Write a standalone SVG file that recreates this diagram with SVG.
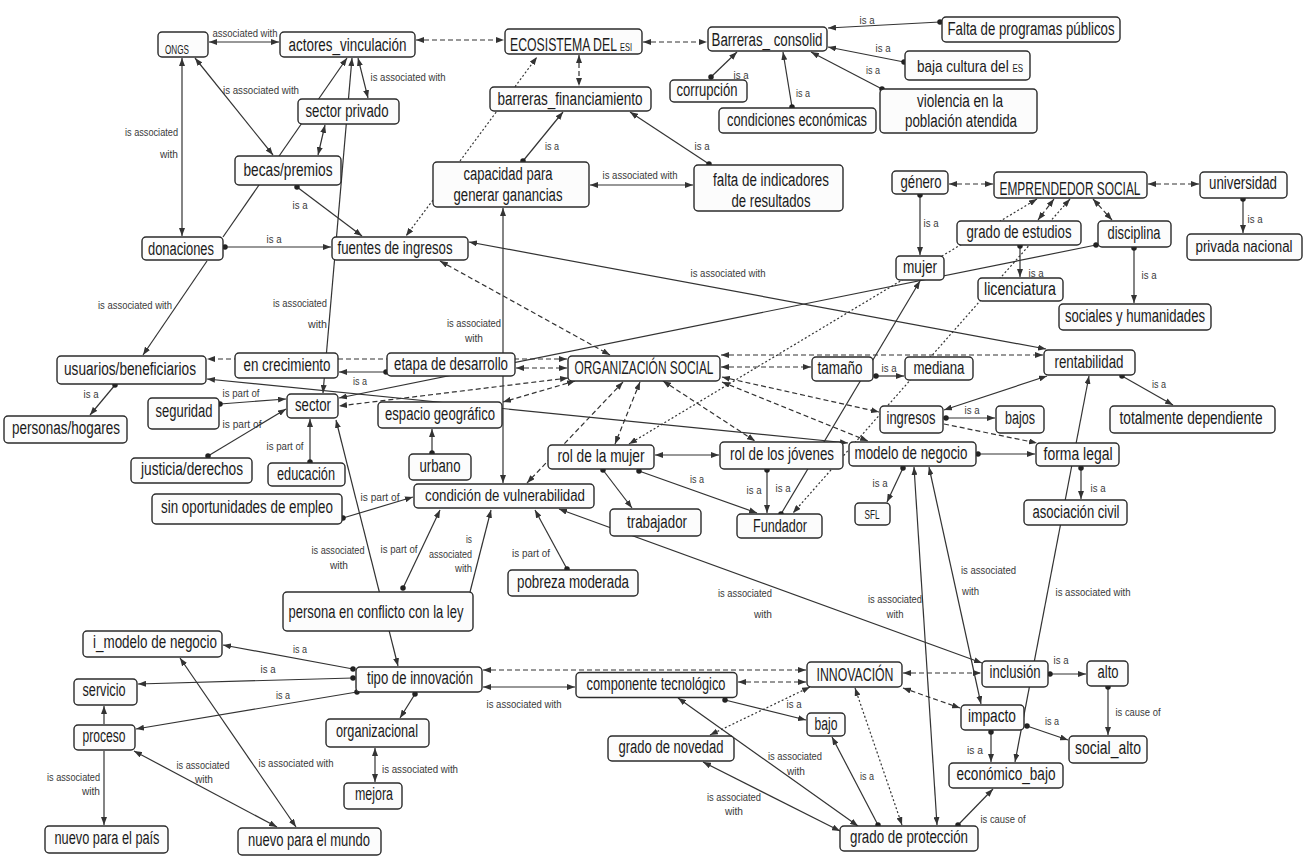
<svg xmlns="http://www.w3.org/2000/svg" width="1307" height="860" viewBox="0 0 1307 860">
<style>
line{stroke:#333;stroke-width:1.2;fill:none}
.k{stroke-dasharray:5 3}
.t{stroke-dasharray:2 2.2}
.b{marker-start:url(#ah);marker-end:url(#ah)}
.e{marker-end:url(#ah)}
.de{marker-start:url(#dt);marker-end:url(#ah)}
.nodes rect{fill:#fcfcfc;stroke:#2b2b2b;stroke-width:1.4}
.nodes text{font-family:"Liberation Sans",Arial,sans-serif;font-size:18px;fill:#1a1a1a;text-anchor:middle}
.nodes text.s{text-anchor:start}
.lb text{font-family:"Liberation Sans",Arial,sans-serif;font-size:11.5px;fill:#3a3a3a;text-anchor:middle}
.lb text.r{text-anchor:end}
.lb text.st{text-anchor:start}
</style>
<defs>
<marker id="ah" viewBox="0 0 8 6" refX="8" refY="3" markerWidth="8" markerHeight="6" markerUnits="userSpaceOnUse" orient="auto-start-reverse"><path d="M0,0 L8,3 L0,6 z" fill="#333"/></marker>
<marker id="dt" viewBox="0 0 6 6" refX="3" refY="3" markerWidth="5.5" markerHeight="5.5" markerUnits="userSpaceOnUse"><circle cx="3" cy="3" r="3" fill="#222"/></marker>
</defs>
<rect width="1307" height="860" fill="#ffffff"/>
<g id="connectors">
<line class="b" x1="209" y1="42" x2="279" y2="42"/>
<line class="b" x1="182" y1="58" x2="182" y2="236"/>
<line class="b" x1="195" y1="58" x2="273" y2="155"/>
<line class="b" x1="358" y1="58" x2="368" y2="98"/>
<line class="e" x1="223" y1="237" x2="347" y2="58"/>
<line class="b" x1="325" y1="125" x2="318" y2="155"/>
<line class="b" x1="352" y1="58" x2="323" y2="393"/>
<line class="de" x1="225" y1="247" x2="331" y2="247"/>
<line class="de" x1="297" y1="187" x2="362" y2="236"/>
<line class="e" x1="207" y1="261" x2="143" y2="355"/>
<line class="t e" x1="460" y1="161" x2="537" y2="57"/>
<line class="t e" x1="433" y1="200" x2="406" y2="236"/>
<line class="k b" x1="416" y1="40" x2="504" y2="40"/>
<line class="k b" x1="643" y1="42" x2="707" y2="42"/>
<line class="k b" x1="579" y1="55" x2="579" y2="86"/>
<line class="de" x1="523" y1="161" x2="563" y2="112"/>
<line class="de" x1="709" y1="164" x2="630" y2="112"/>
<line class="b" x1="590" y1="185" x2="693" y2="185"/>
<line class="de" x1="711" y1="77" x2="737" y2="52"/>
<line class="de" x1="792" y1="107" x2="783" y2="52"/>
<line class="de" x1="940" y1="22" x2="828" y2="28"/>
<line class="de" x1="904" y1="62" x2="828" y2="47"/>
<line class="de" x1="882" y1="89" x2="811" y2="52"/>
<line class="k b" x1="440" y1="261" x2="610" y2="355"/>
<line class="b" x1="469" y1="242" x2="1046" y2="349"/>
<line class="b" x1="503" y1="208" x2="503" y2="483"/>
<line class="k b" x1="516" y1="368" x2="567" y2="368"/>
<line class="k b" x1="567" y1="359" x2="207" y2="359"/>
<line class="de" x1="386" y1="372" x2="339" y2="372"/>
<line class="de" x1="1096" y1="245" x2="339" y2="398"/>
<line class="b" x1="207" y1="379" x2="848" y2="443"/>
<line class="k b" x1="568" y1="378" x2="339" y2="406"/>
<line class="k b" x1="575" y1="381" x2="503" y2="402"/>
<line class="de" x1="432" y1="453" x2="432" y2="429"/>
<line class="de" x1="220" y1="404" x2="286" y2="399"/>
<line class="de" x1="208" y1="456" x2="286" y2="409"/>
<line class="de" x1="310" y1="462" x2="310" y2="419"/>
<line class="de" x1="115" y1="385" x2="90" y2="415"/>
<line class="de" x1="343" y1="518" x2="413" y2="497"/>
<line class="de" x1="403" y1="588" x2="440" y2="510"/>
<line class="e" x1="470" y1="592" x2="491" y2="510"/>
<line class="b" x1="336" y1="420" x2="398" y2="666"/>
<line class="de" x1="567" y1="569" x2="535" y2="510"/>
<line class="b" x1="559" y1="509" x2="982" y2="663"/>
<line class="de" x1="603" y1="470" x2="632" y2="508"/>
<line class="de" x1="639" y1="471" x2="757" y2="513"/>
<line class="b" x1="655" y1="455" x2="719" y2="455"/>
<line class="de" x1="767" y1="470" x2="767" y2="513"/>
<line class="de" x1="781" y1="514" x2="920" y2="281"/>
<line class="t b" x1="1070" y1="199" x2="793" y2="513"/>
<line class="t b" x1="1037" y1="199" x2="629" y2="444"/>
<line class="k b" x1="949" y1="184" x2="993" y2="184"/>
<line class="k b" x1="1148" y1="184" x2="1199" y2="184"/>
<line class="k b" x1="1093" y1="199" x2="1112" y2="220"/>
<line class="k b" x1="1054" y1="199" x2="1038" y2="220"/>
<line class="de" x1="1020" y1="246" x2="1020" y2="277"/>
<line class="de" x1="1134" y1="248" x2="1134" y2="303"/>
<line class="de" x1="1243" y1="199" x2="1243" y2="233"/>
<line class="de" x1="920" y1="195" x2="920" y2="255"/>
<line class="k b" x1="721" y1="355" x2="1043" y2="355"/>
<line class="k b" x1="721" y1="367" x2="811" y2="367"/>
<line class="de" x1="876" y1="376" x2="904" y2="376"/>
<line class="k b" x1="722" y1="377" x2="879" y2="412"/>
<line class="k e" x1="944" y1="424" x2="1037" y2="443"/>
<line class="k b" x1="722" y1="382" x2="868" y2="441"/>
<line class="k b" x1="663" y1="381" x2="755" y2="441"/>
<line class="k b" x1="640" y1="382" x2="615" y2="444"/>
<line class="k b" x1="623" y1="382" x2="527" y2="483"/>
<line class="b" x1="944" y1="410" x2="1047" y2="376"/>
<line class="de" x1="946" y1="418" x2="995" y2="418"/>
<line class="de" x1="1122" y1="376" x2="1173" y2="405"/>
<line class="de" x1="978" y1="454" x2="1035" y2="454"/>
<line class="de" x1="1081" y1="468" x2="1081" y2="499"/>
<line class="de" x1="903" y1="468" x2="887" y2="502"/>
<line class="b" x1="1089" y1="376" x2="1015" y2="762"/>
<line class="b" x1="914" y1="467" x2="937" y2="825"/>
<line class="b" x1="929" y1="467" x2="981" y2="704"/>
<line class="k b" x1="903" y1="673" x2="981" y2="673"/>
<line class="k b" x1="903" y1="688" x2="960" y2="708"/>
<line class="t b" x1="855" y1="688" x2="902" y2="825"/>
<line class="k b" x1="483" y1="670" x2="806" y2="670"/>
<line class="k b" x1="738" y1="682" x2="806" y2="682"/>
<line class="b" x1="483" y1="687" x2="575" y2="687"/>
<line class="de" x1="725" y1="700" x2="806" y2="720"/>
<line class="t b" x1="810" y1="687" x2="710" y2="735"/>
<line class="b" x1="703" y1="762" x2="840" y2="831"/>
<line class="b" x1="678" y1="698" x2="858" y2="826"/>
<line class="de" x1="878" y1="825" x2="832" y2="737"/>
<line class="de" x1="958" y1="825" x2="993" y2="789"/>
<line class="de" x1="1050" y1="674" x2="1086" y2="674"/>
<line class="de" x1="1108" y1="687" x2="1108" y2="735"/>
<line class="de" x1="1027" y1="726" x2="1068" y2="740"/>
<line class="de" x1="991" y1="732" x2="991" y2="762"/>
<line class="de" x1="353" y1="669" x2="223" y2="645"/>
<line class="de" x1="353" y1="678" x2="138" y2="684"/>
<line class="de" x1="357" y1="692" x2="136" y2="729"/>
<line class="de" x1="415" y1="694" x2="400" y2="718"/>
<line class="b" x1="375" y1="748" x2="375" y2="782"/>
<line class="e" x1="104" y1="724" x2="104" y2="706"/>
<line class="e" x1="104" y1="751" x2="104" y2="825"/>
<line class="b" x1="134" y1="751" x2="277" y2="827"/>
<line class="b" x1="180" y1="658" x2="296" y2="827"/>
</g>
<g id="link-labels" class="lb">
<text x="245" y="37" textLength="65" lengthAdjust="spacingAndGlyphs">associated with</text>
<text class="r" x="178" y="136" textLength="53" lengthAdjust="spacingAndGlyphs">is associated</text>
<text class="r" x="178" y="158" textLength="18" lengthAdjust="spacingAndGlyphs">with</text>
<text x="261" y="94" textLength="76" lengthAdjust="spacingAndGlyphs">is associated with</text>
<text x="408" y="81" textLength="75" lengthAdjust="spacingAndGlyphs">is associated with</text>
<text x="274" y="243" textLength="15" lengthAdjust="spacingAndGlyphs">is a</text>
<text x="300" y="209" textLength="15" lengthAdjust="spacingAndGlyphs">is a</text>
<text x="135" y="309" textLength="74" lengthAdjust="spacingAndGlyphs">is associated with</text>
<text class="r" x="327" y="307" textLength="54" lengthAdjust="spacingAndGlyphs">is associated</text>
<text class="r" x="327" y="328" textLength="19" lengthAdjust="spacingAndGlyphs">with</text>
<text x="552" y="150" textLength="14" lengthAdjust="spacingAndGlyphs">is a</text>
<text x="702" y="150" textLength="15" lengthAdjust="spacingAndGlyphs">is a</text>
<text x="640" y="179" textLength="75" lengthAdjust="spacingAndGlyphs">is associated with</text>
<text x="741" y="79" textLength="15" lengthAdjust="spacingAndGlyphs">is a</text>
<text x="803" y="97" textLength="14" lengthAdjust="spacingAndGlyphs">is a</text>
<text x="867" y="24" textLength="15" lengthAdjust="spacingAndGlyphs">is a</text>
<text x="883" y="52" textLength="15" lengthAdjust="spacingAndGlyphs">is a</text>
<text x="873" y="74" textLength="14" lengthAdjust="spacingAndGlyphs">is a</text>
<text x="728" y="277" textLength="75" lengthAdjust="spacingAndGlyphs">is associated with</text>
<text class="r" x="501" y="327" textLength="54" lengthAdjust="spacingAndGlyphs">is associated</text>
<text x="474" y="342" textLength="18" lengthAdjust="spacingAndGlyphs">with</text>
<text x="360" y="385" textLength="14" lengthAdjust="spacingAndGlyphs">is a</text>
<text x="241" y="397" textLength="37" lengthAdjust="spacingAndGlyphs">is part of</text>
<text x="242" y="428" textLength="39" lengthAdjust="spacingAndGlyphs">is part of</text>
<text x="285" y="450" textLength="37" lengthAdjust="spacingAndGlyphs">is part of</text>
<text x="91" y="398" textLength="15" lengthAdjust="spacingAndGlyphs">is a</text>
<text x="380" y="501" textLength="39" lengthAdjust="spacingAndGlyphs">is part of</text>
<text x="399" y="553" textLength="37" lengthAdjust="spacingAndGlyphs">is part of</text>
<text class="r" x="472" y="543" textLength="6" lengthAdjust="spacingAndGlyphs">is</text>
<text class="r" x="472" y="558" textLength="43" lengthAdjust="spacingAndGlyphs">associated</text>
<text class="r" x="472" y="572" textLength="17" lengthAdjust="spacingAndGlyphs">with</text>
<text x="338" y="554" textLength="53" lengthAdjust="spacingAndGlyphs">is associated</text>
<text x="339" y="569" textLength="18" lengthAdjust="spacingAndGlyphs">with</text>
<text x="531" y="557" textLength="38" lengthAdjust="spacingAndGlyphs">is part of</text>
<text class="r" x="772" y="597" textLength="54" lengthAdjust="spacingAndGlyphs">is associated</text>
<text class="r" x="772" y="618" textLength="18" lengthAdjust="spacingAndGlyphs">with</text>
<text x="895" y="603" textLength="54" lengthAdjust="spacingAndGlyphs">is associated</text>
<text x="895" y="618" textLength="17" lengthAdjust="spacingAndGlyphs">with</text>
<text x="697" y="483" textLength="14" lengthAdjust="spacingAndGlyphs">is a</text>
<text x="754" y="494" textLength="15" lengthAdjust="spacingAndGlyphs">is a</text>
<text x="783" y="492" textLength="15" lengthAdjust="spacingAndGlyphs">is a</text>
<text x="931" y="227" textLength="15" lengthAdjust="spacingAndGlyphs">is a</text>
<text x="1036" y="277" textLength="15" lengthAdjust="spacingAndGlyphs">is a</text>
<text x="1149" y="279" textLength="15" lengthAdjust="spacingAndGlyphs">is a</text>
<text x="1255" y="223" textLength="15" lengthAdjust="spacingAndGlyphs">is a</text>
<text x="889" y="372" textLength="15" lengthAdjust="spacingAndGlyphs">is a</text>
<text x="972" y="414" textLength="15" lengthAdjust="spacingAndGlyphs">is a</text>
<text x="1159" y="388" textLength="14" lengthAdjust="spacingAndGlyphs">is a</text>
<text x="1098" y="492" textLength="15" lengthAdjust="spacingAndGlyphs">is a</text>
<text x="880" y="487" textLength="15" lengthAdjust="spacingAndGlyphs">is a</text>
<text x="1093" y="596" textLength="75" lengthAdjust="spacingAndGlyphs">is associated with</text>
<text class="st" x="961" y="574" textLength="55" lengthAdjust="spacingAndGlyphs">is associated</text>
<text class="st" x="962" y="595" textLength="17" lengthAdjust="spacingAndGlyphs">with</text>
<text x="524" y="708" textLength="75" lengthAdjust="spacingAndGlyphs">is associated with</text>
<text x="794" y="708" textLength="15" lengthAdjust="spacingAndGlyphs">is a</text>
<text x="795" y="760" textLength="54" lengthAdjust="spacingAndGlyphs">is associated</text>
<text x="796" y="775" textLength="18" lengthAdjust="spacingAndGlyphs">with</text>
<text x="734" y="801" textLength="54" lengthAdjust="spacingAndGlyphs">is associated</text>
<text x="734" y="815" textLength="18" lengthAdjust="spacingAndGlyphs">with</text>
<text x="867" y="780" textLength="14" lengthAdjust="spacingAndGlyphs">is a</text>
<text x="1003" y="823" textLength="45" lengthAdjust="spacingAndGlyphs">is cause of</text>
<text x="1061" y="664" textLength="15" lengthAdjust="spacingAndGlyphs">is a</text>
<text x="1138" y="716" textLength="45" lengthAdjust="spacingAndGlyphs">is cause of</text>
<text x="1052" y="725" textLength="14" lengthAdjust="spacingAndGlyphs">is a</text>
<text x="975" y="754" textLength="16" lengthAdjust="spacingAndGlyphs">is a</text>
<text x="300" y="653" textLength="14" lengthAdjust="spacingAndGlyphs">is a</text>
<text x="268" y="673" textLength="15" lengthAdjust="spacingAndGlyphs">is a</text>
<text x="283" y="699" textLength="14" lengthAdjust="spacingAndGlyphs">is a</text>
<text x="420" y="773" textLength="76" lengthAdjust="spacingAndGlyphs">is associated with</text>
<text class="r" x="100" y="781" textLength="53" lengthAdjust="spacingAndGlyphs">is associated</text>
<text class="r" x="100" y="795" textLength="18" lengthAdjust="spacingAndGlyphs">with</text>
<text x="203" y="769" textLength="53" lengthAdjust="spacingAndGlyphs">is associated</text>
<text x="204" y="783" textLength="18" lengthAdjust="spacingAndGlyphs">with</text>
<text x="296" y="767" textLength="75" lengthAdjust="spacingAndGlyphs">is associated with</text>
</g>
<g class="nodes">
<g id="n-ongs"><rect x="158" y="32" width="50" height="25" rx="4"/><text x="177" y="54" style="font-size:12px" textLength="24" lengthAdjust="spacingAndGlyphs">ONGS</text></g>
<g id="n-actores"><rect x="280" y="32" width="135" height="25" rx="4"/><text x="347.5" y="51" textLength="118" lengthAdjust="spacingAndGlyphs">actores_vinculación</text></g>
<g id="n-sector-privado"><rect x="298" y="99" width="101" height="25" rx="4"/><text x="347" y="117" textLength="83" lengthAdjust="spacingAndGlyphs">sector privado</text></g>
<g id="n-becas"><rect x="235" y="156" width="106" height="29" rx="4"/><text x="288" y="176" textLength="89" lengthAdjust="spacingAndGlyphs">becas/premios</text></g>
<g id="n-donaciones"><rect x="142" y="237" width="81" height="23" rx="4"/><text x="181" y="255" textLength="66" lengthAdjust="spacingAndGlyphs">donaciones</text></g>
<g id="n-fuentes"><rect x="332" y="237" width="136" height="23" rx="4"/><text x="395" y="254" textLength="115" lengthAdjust="spacingAndGlyphs">fuentes de ingresos</text></g>
<g id="n-ecosistema"><rect x="505" y="29" width="137" height="25" rx="4"/><text class="s" x="510" y="51" textLength="122" lengthAdjust="spacingAndGlyphs">ECOSISTEMA DEL <tspan style="font-size:11px">ESI</tspan></text></g>
<g id="n-barreras-consolid"><rect x="708" y="27" width="119" height="24" rx="4"/><text x="767" y="46" textLength="111" lengthAdjust="spacingAndGlyphs">Barreras_ consolid</text></g>
<g id="n-barreras-fin"><rect x="490" y="87" width="161" height="24" rx="4"/><text x="570" y="105" textLength="145" lengthAdjust="spacingAndGlyphs">barreras_financiamiento</text></g>
<g id="n-corrupcion"><rect x="670" y="80" width="77" height="22" rx="4"/><text x="707" y="96" textLength="61" lengthAdjust="spacingAndGlyphs">corrupción</text></g>
<g id="n-condiciones"><rect x="719" y="108" width="157" height="25" rx="4"/><text x="797" y="126" textLength="140" lengthAdjust="spacingAndGlyphs">condiciones económicas</text></g>
<g id="n-falta-programas"><rect x="942" y="17" width="178" height="25" rx="4"/><text x="1031" y="35" textLength="167" lengthAdjust="spacingAndGlyphs">Falta de programas públicos</text></g>
<g id="n-baja-cultura"><rect x="905" y="51" width="125" height="29" rx="4"/><text class="s" x="917" y="72" style="font-size:17px" textLength="106" lengthAdjust="spacingAndGlyphs">baja cultura del <tspan style="font-size:10px">ES</tspan></text></g>
<g id="n-violencia"><rect x="880" y="89" width="157" height="44" rx="4"/><text x="960" y="107" textLength="86" lengthAdjust="spacingAndGlyphs">violencia en la</text><text x="961" y="127" textLength="112" lengthAdjust="spacingAndGlyphs">población atendida</text></g>
<g id="n-capacidad"><rect x="433" y="162" width="156" height="45" rx="4"/><text x="508" y="180" textLength="89" lengthAdjust="spacingAndGlyphs">capacidad para</text><text x="508" y="201" textLength="109" lengthAdjust="spacingAndGlyphs">generar ganancias</text></g>
<g id="n-falta-indicadores"><rect x="694" y="165" width="149" height="46" rx="4"/><text x="771" y="186" textLength="116" lengthAdjust="spacingAndGlyphs">falta de indicadores</text><text x="771" y="207" textLength="79" lengthAdjust="spacingAndGlyphs">de resultados</text></g>
<g id="n-genero"><rect x="892" y="171" width="56" height="23" rx="4"/><text x="921" y="188" textLength="41" lengthAdjust="spacingAndGlyphs">género</text></g>
<g id="n-emprendedor"><rect x="994" y="172" width="153" height="26" rx="4"/><text x="1070" y="195" textLength="141" lengthAdjust="spacingAndGlyphs">EMPRENDEDOR SOCIAL</text></g>
<g id="n-universidad"><rect x="1200" y="172" width="87" height="26" rx="4"/><text x="1243" y="189" textLength="68" lengthAdjust="spacingAndGlyphs">universidad</text></g>
<g id="n-grado-estudios"><rect x="957" y="221" width="124" height="24" rx="4"/><text x="1019" y="238" textLength="105" lengthAdjust="spacingAndGlyphs">grado de estudios</text></g>
<g id="n-disciplina"><rect x="1098" y="221" width="73" height="26" rx="4"/><text x="1134" y="239" textLength="53" lengthAdjust="spacingAndGlyphs">disciplina</text></g>
<g id="n-privada"><rect x="1187" y="234" width="115" height="26" rx="4"/><text x="1244" y="252" style="font-size:16px" textLength="97" lengthAdjust="spacingAndGlyphs">privada nacional</text></g>
<g id="n-mujer"><rect x="896" y="256" width="48" height="24" rx="4"/><text x="920" y="273" textLength="34" lengthAdjust="spacingAndGlyphs">mujer</text></g>
<g id="n-licenciatura"><rect x="978" y="278" width="85" height="23" rx="4"/><text x="1020" y="295" textLength="72" lengthAdjust="spacingAndGlyphs">licenciatura</text></g>
<g id="n-sociales"><rect x="1059" y="304" width="152" height="26" rx="4"/><text x="1135" y="322" textLength="140" lengthAdjust="spacingAndGlyphs">sociales y humanidades</text></g>
<g id="n-rentabilidad"><rect x="1044" y="350" width="91" height="25" rx="4"/><text x="1089" y="368" textLength="69" lengthAdjust="spacingAndGlyphs">rentabilidad</text></g>
<g id="n-mediana"><rect x="905" y="357" width="68" height="23" rx="4"/><text x="939" y="374" textLength="51" lengthAdjust="spacingAndGlyphs">mediana</text></g>
<g id="n-tamano"><rect x="812" y="357" width="61" height="24" rx="4"/><text x="840" y="374" textLength="45" lengthAdjust="spacingAndGlyphs">tamaño</text></g>
<g id="n-ingresos"><rect x="880" y="406" width="63" height="27" rx="4"/><text x="911" y="424" textLength="49" lengthAdjust="spacingAndGlyphs">ingresos</text></g>
<g id="n-bajos"><rect x="996" y="406" width="48" height="27" rx="4"/><text x="1020" y="424" textLength="30" lengthAdjust="spacingAndGlyphs">bajos</text></g>
<g id="n-totalmente"><rect x="1110" y="406" width="165" height="27" rx="4"/><text x="1191" y="424" textLength="143" lengthAdjust="spacingAndGlyphs">totalmente dependiente</text></g>
<g id="n-modelo"><rect x="849" y="442" width="127" height="24" rx="4"/><text x="911" y="459" textLength="113" lengthAdjust="spacingAndGlyphs">modelo de negocio</text></g>
<g id="n-forma-legal"><rect x="1036" y="443" width="83" height="23" rx="4"/><text x="1078" y="460" textLength="69" lengthAdjust="spacingAndGlyphs">forma legal</text></g>
<g id="n-asociacion"><rect x="1024" y="500" width="103" height="25" rx="4"/><text x="1076" y="518" textLength="87" lengthAdjust="spacingAndGlyphs">asociación civil</text></g>
<g id="n-sfl"><rect x="855" y="503" width="35" height="22" rx="4"/><text x="872" y="519" style="font-size:12px" textLength="15" lengthAdjust="spacingAndGlyphs">SFL</text></g>
<g id="n-rol-jovenes"><rect x="720" y="442" width="123" height="27" rx="4"/><text x="782" y="460" textLength="104" lengthAdjust="spacingAndGlyphs">rol de los jóvenes</text></g>
<g id="n-fundador"><rect x="737" y="514" width="85" height="24" rx="4"/><text x="780" y="532" textLength="54" lengthAdjust="spacingAndGlyphs">Fundador</text></g>
<g id="n-organizacion"><rect x="568" y="356" width="152" height="25" rx="4"/><text x="644" y="374" textLength="139" lengthAdjust="spacingAndGlyphs">ORGANIZACIÓN SOCIAL</text></g>
<g id="n-etapa"><rect x="387" y="353" width="128" height="23" rx="4"/><text x="451" y="370" textLength="114" lengthAdjust="spacingAndGlyphs">etapa de desarrollo</text></g>
<g id="n-crecimiento"><rect x="235" y="353" width="103" height="25" rx="4"/><text x="287" y="371" textLength="87" lengthAdjust="spacingAndGlyphs">en crecimiento</text></g>
<g id="n-usuarios"><rect x="57" y="356" width="149" height="28" rx="4"/><text x="130" y="375" textLength="132" lengthAdjust="spacingAndGlyphs">usuarios/beneficiarios</text></g>
<g id="n-personas"><rect x="4" y="416" width="123" height="27" rx="4"/><text x="66" y="434" textLength="108" lengthAdjust="spacingAndGlyphs">personas/hogares</text></g>
<g id="n-seguridad"><rect x="148" y="398" width="71" height="31" rx="4"/><text x="184" y="417" textLength="57" lengthAdjust="spacingAndGlyphs">seguridad</text></g>
<g id="n-sector"><rect x="287" y="394" width="51" height="24" rx="4"/><text x="313" y="411" textLength="36" lengthAdjust="spacingAndGlyphs">sector</text></g>
<g id="n-espacio"><rect x="378" y="402" width="124" height="26" rx="4"/><text x="440" y="420" textLength="110" lengthAdjust="spacingAndGlyphs">espacio geográfico</text></g>
<g id="n-justicia"><rect x="131" y="458" width="121" height="25" rx="4"/><text x="192" y="475" textLength="102" lengthAdjust="spacingAndGlyphs">justicia/derechos</text></g>
<g id="n-educacion"><rect x="268" y="463" width="77" height="23" rx="4"/><text x="306" y="480" textLength="58" lengthAdjust="spacingAndGlyphs">educación</text></g>
<g id="n-urbano"><rect x="409" y="454" width="62" height="26" rx="4"/><text x="440" y="472" textLength="41" lengthAdjust="spacingAndGlyphs">urbano</text></g>
<g id="n-sin-oportunidades"><rect x="152" y="494" width="190" height="30" rx="4"/><text x="247" y="513" textLength="172" lengthAdjust="spacingAndGlyphs">sin oportunidades de empleo</text></g>
<g id="n-condicion"><rect x="414" y="484" width="180" height="24" rx="4"/><text x="505" y="501" style="font-size:16px" textLength="160" lengthAdjust="spacingAndGlyphs">condición de vulnerabilidad</text></g>
<g id="n-rol-mujer"><rect x="548" y="445" width="106" height="24" rx="4"/><text x="601" y="462" textLength="87" lengthAdjust="spacingAndGlyphs">rol de la mujer</text></g>
<g id="n-trabajador"><rect x="610" y="509" width="91" height="27" rx="4"/><text x="657" y="528" textLength="60" lengthAdjust="spacingAndGlyphs">trabajador</text></g>
<g id="n-pobreza"><rect x="508" y="570" width="130" height="26" rx="4"/><text x="573" y="588" textLength="112" lengthAdjust="spacingAndGlyphs">pobreza moderada</text></g>
<g id="n-persona"><rect x="283" y="592" width="190" height="39" rx="4"/><text x="376" y="618" textLength="175" lengthAdjust="spacingAndGlyphs">persona en conflicto con la ley</text></g>
<g id="n-i-modelo"><rect x="83" y="631" width="139" height="26" rx="4"/><text x="155" y="648" textLength="124" lengthAdjust="spacingAndGlyphs">i_modelo de negocio</text></g>
<g id="n-tipo"><rect x="356" y="667" width="126" height="25" rx="4"/><text x="420" y="684" textLength="106" lengthAdjust="spacingAndGlyphs">tipo de innovación</text></g>
<g id="n-servicio"><rect x="74" y="679" width="63" height="26" rx="4"/><text x="104" y="696" textLength="43" lengthAdjust="spacingAndGlyphs">servicio</text></g>
<g id="n-proceso"><rect x="74" y="725" width="61" height="25" rx="4"/><text x="104" y="742" textLength="43" lengthAdjust="spacingAndGlyphs">proceso</text></g>
<g id="n-organizacional"><rect x="326" y="719" width="103" height="28" rx="4"/><text x="377" y="737" textLength="82" lengthAdjust="spacingAndGlyphs">organizacional</text></g>
<g id="n-mejora"><rect x="344" y="783" width="58" height="26" rx="4"/><text x="374" y="800" textLength="38" lengthAdjust="spacingAndGlyphs">mejora</text></g>
<g id="n-pais"><rect x="45" y="826" width="123" height="27" rx="4"/><text x="107" y="844" textLength="105" lengthAdjust="spacingAndGlyphs">nuevo para el país</text></g>
<g id="n-mundo"><rect x="238" y="828" width="143" height="27" rx="4"/><text x="309" y="846" textLength="122" lengthAdjust="spacingAndGlyphs">nuevo para el mundo</text></g>
<g id="n-componente"><rect x="576" y="672.5" width="161" height="25" rx="4"/><text x="656" y="690" textLength="139" lengthAdjust="spacingAndGlyphs">componente tecnológico</text></g>
<g id="n-innovacion"><rect x="807" y="662" width="95" height="25" rx="4"/><text x="855" y="681" textLength="77" lengthAdjust="spacingAndGlyphs">INNOVACIÓN</text></g>
<g id="n-bajo"><rect x="807" y="713" width="38" height="23" rx="4"/><text x="826" y="730" textLength="23" lengthAdjust="spacingAndGlyphs">bajo</text></g>
<g id="n-novedad"><rect x="608" y="736" width="126" height="25" rx="4"/><text x="671" y="753" textLength="105" lengthAdjust="spacingAndGlyphs">grado de novedad</text></g>
<g id="n-proteccion"><rect x="840" y="826" width="138" height="25" rx="4"/><text x="909" y="843" textLength="118" lengthAdjust="spacingAndGlyphs">grado de protección</text></g>
<g id="n-inclusion"><rect x="982" y="661" width="66" height="26" rx="4"/><text x="1015" y="678" textLength="51" lengthAdjust="spacingAndGlyphs">inclusión</text></g>
<g id="n-alto"><rect x="1087" y="661" width="41" height="25" rx="4"/><text x="1108" y="678" textLength="21" lengthAdjust="spacingAndGlyphs">alto</text></g>
<g id="n-impacto"><rect x="961" y="705" width="63" height="25" rx="4"/><text x="992" y="722" textLength="48" lengthAdjust="spacingAndGlyphs">impacto</text></g>
<g id="n-social-alto"><rect x="1069" y="736" width="78" height="27" rx="4"/><text x="1108" y="754" textLength="66" lengthAdjust="spacingAndGlyphs">social_alto</text></g>
<g id="n-economico"><rect x="949" y="763" width="114" height="25" rx="4"/><text x="1006" y="780" textLength="99" lengthAdjust="spacingAndGlyphs">económico_bajo</text></g>
</g>
</svg>
